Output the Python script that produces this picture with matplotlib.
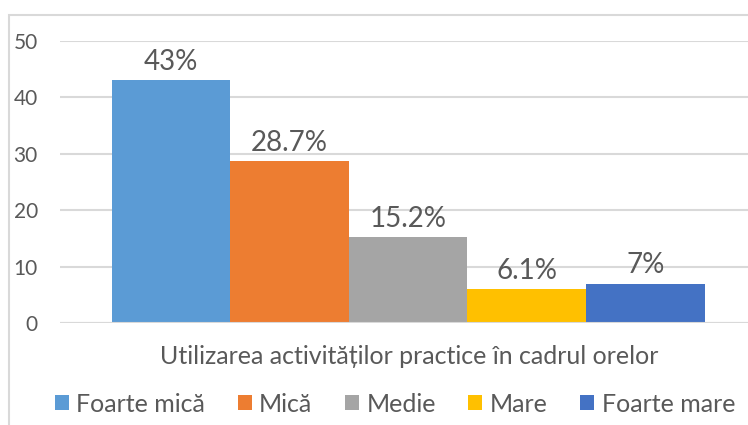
import matplotlib.pyplot as plt
from matplotlib.patches import Rectangle

category = "Utilizarea activităților practice în cadrul orelor"
series = ["Foarte mică", "Mică", "Medie", "Mare", "Foarte mare"]
values = [43, 28.7, 15.2, 6.1, 7]
labels = ["43%", "28.7%", "15.2%", "6.1%", "7%"]
colors = ["#5B9BD5", "#ED7D31", "#A5A5A5", "#FFC000", "#4472C4"]
yticks = [0, 10, 20, 30, 40, 50]

text_color = "#595959"
grid_color = "#D9D9D9"
plt.rcParams['font.family'] = ['Lato', 'DejaVu Sans']

W, H = 748, 425
fig = plt.figure(figsize=(W / 100, H / 100), dpi=100)

# chart frame (only left and top edges are visible in the crop)
fig.patches.append(Rectangle((9 / W, -0.1), 1.2, 1 - 15 / H + 0.1,
                             transform=fig.transFigure, fill=False,
                             edgecolor=grid_color, linewidth=1.5))

ax = fig.add_axes([60 / W, 1 - 323 / H, 696 / W, (323 - 41) / H])

n = len(values)
for i, (v, c, lab) in enumerate(zip(values, colors, labels)):
    x = i - (n - 1) / 2
    ax.bar(x, v, width=1.0, color=c, zorder=3, label=series[i])
    ax.text(x, v + 0.9, lab, ha='center', va='bottom', fontsize=20,
            color=text_color)

span = 5 * 696 / 593 / 2
ax.set_xlim(-span, span)
ax.set_ylim(0, 50)
ax.set_yticks(yticks)
ax.set_yticklabels([str(t) for t in yticks], fontsize=15, color=text_color)
ax.tick_params(axis='y', length=0, pad=16)
ax.set_xticks([])
for s in ax.spines.values():
    s.set_visible(False)
ax.grid(axis='y', color=grid_color, linewidth=1.5, zorder=0)
ax.axhline(0, color=grid_color, linewidth=1.5, zorder=4)

fig.text(409 / W, 1 - 356 / H, category, ha='center', va='center',
         fontsize=18, color=text_color)

leg = fig.legend(loc='center', bbox_to_anchor=(395 / W, 1 - 404 / H),
                 ncol=5, frameon=False, fontsize=18, handlelength=0.56,
                 handleheight=0.56, handletextpad=0.3, columnspacing=1.3)
for t in leg.get_texts():
    t.set_color(text_color)

fig.savefig("out.png", dpi=100)
